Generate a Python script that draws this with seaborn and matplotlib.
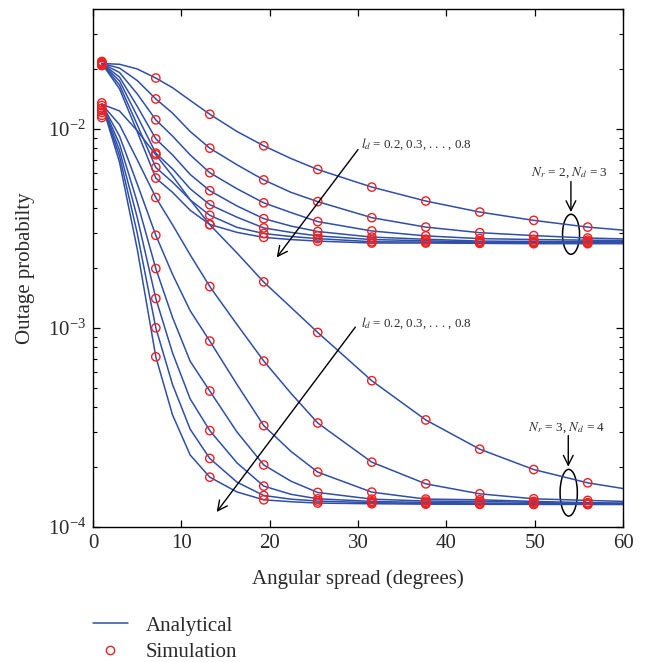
import numpy as np
import pandas as pd
import matplotlib
matplotlib.use("Agg")
import matplotlib.pyplot as plt
import seaborn as sns
from matplotlib.patches import Ellipse
from matplotlib.lines import Line2D
from matplotlib.ticker import LogLocator, NullFormatter, MultipleLocator

# ---------------------------------------------------------------- data
ld_values = [0.2, 0.3, 0.4, 0.5, 0.6, 0.7, 0.8]

x_analytical = [1, 3, 5, 7.11, 9, 11, 13.22, 16.3, 19.33, 22.4, 25.44,
                31.56, 37.67, 43.78, 49.89, 56, 60]
x_simulation = [1, 7.11, 13.22, 19.33, 25.44, 31.56, 37.67, 43.78, 49.89, 56]

# Nr = 2, Nd = 3 (one row per l_d)
nr2_analytical = [
    [0.0213, 0.0211, 0.0200, 0.0180, 0.0161, 0.0139, 0.01184, 0.0097, 0.00822, 0.0071, 0.00625, 0.00510, 0.00434, 0.00382, 0.00347, 0.00321, 0.00310],
    [0.0213, 0.0202, 0.0175, 0.01413, 0.0120, 0.0097, 0.0080, 0.0066, 0.00554, 0.0048, 0.00431, 0.00358, 0.00321, 0.00301, 0.00291, 0.00283, 0.00280],
    [0.0213, 0.0192, 0.0150, 0.0111, 0.0092, 0.0074, 0.00602, 0.0050, 0.00425, 0.0038, 0.00342, 0.00307, 0.00290, 0.00281, 0.00278, 0.00276, 0.00275],
    [0.0213, 0.0182, 0.0130, 0.00891, 0.0074, 0.0059, 0.00489, 0.0041, 0.00354, 0.00325, 0.00305, 0.00286, 0.00279, 0.00273, 0.00272, 0.00271, 0.00271],
    [0.0213, 0.0174, 0.0116, 0.00755, 0.0063, 0.0050, 0.00416, 0.0036, 0.00318, 0.00302, 0.00290, 0.00278, 0.00274, 0.00270, 0.00269, 0.00269, 0.00269],
    [0.0213, 0.0166, 0.0105, 0.0064, 0.0054, 0.0044, 0.00368, 0.0032, 0.00298, 0.00288, 0.00281, 0.00271, 0.00270, 0.00268, 0.00267, 0.00267, 0.00267],
    [0.0213, 0.0159, 0.0097, 0.00566, 0.0048, 0.0039, 0.00331, 0.00302, 0.00285, 0.00278, 0.00273, 0.00267, 0.00267, 0.00266, 0.00265, 0.00265, 0.00265],
]
nr2_simulation = [
    [0.0218, 0.01801, 0.01184, 0.00822, 0.00625, 0.00510, 0.00434, 0.00382, 0.00347, 0.00321],
    [0.0216, 0.01413, 0.00800, 0.00554, 0.00431, 0.00358, 0.00321, 0.00301, 0.00291, 0.00283],
    [0.0214, 0.01110, 0.00602, 0.00425, 0.00342, 0.00307, 0.00290, 0.00281, 0.00278, 0.00276],
    [0.0212, 0.00891, 0.00489, 0.00354, 0.00305, 0.00286, 0.00279, 0.00273, 0.00272, 0.00271],
    [0.0211, 0.00755, 0.00416, 0.00318, 0.00290, 0.00278, 0.00274, 0.00270, 0.00269, 0.00269],
    [0.0209, 0.00640, 0.00368, 0.00298, 0.00281, 0.00271, 0.00270, 0.00268, 0.00267, 0.00267],
    [0.0208, 0.00566, 0.00331, 0.00285, 0.00273, 0.00267, 0.00267, 0.00266, 0.00265, 0.00265],
]

# Nr = 3, Nd = 4 (one row per l_d)
nr3_analytical = [
    [0.0133, 0.0123, 0.0098, 0.00741, 0.0058, 0.0044, 0.0033, 0.00238, 0.0017, 0.00127, 0.000949, 0.000543, 0.000345, 0.000246, 0.0001944, 0.0001667, 0.0001561],
    [0.0133, 0.0105, 0.0070, 0.00452, 0.0033, 0.00233, 0.001614, 0.00104, 0.000682, 0.00047, 0.000333, 0.0002117, 0.0001648, 0.0001468, 0.0001386, 0.000136, 0.0001345],
    [0.0133, 0.0092, 0.0053, 0.00292, 0.00186, 0.00122, 0.000859, 0.00052, 0.000323, 0.00024, 0.0001887, 0.0001497, 0.0001381, 0.000137, 0.0001345, 0.0001325, 0.000132],
    [0.0133, 0.0084, 0.0043, 0.001987, 0.00113, 0.00068, 0.000482, 0.0003, 0.000205, 0.00017, 0.0001491, 0.0001381, 0.000135, 0.0001345, 0.000133, 0.000131, 0.000131],
    [0.0133, 0.0078, 0.0036, 0.001406, 0.00075, 0.00044, 0.000305, 0.00021, 0.0001605, 0.000146, 0.0001386, 0.0001345, 0.0001328, 0.000132, 0.000131, 0.00013, 0.00013],
    [0.0133, 0.0073, 0.0030, 0.001001, 0.00052, 0.00031, 0.000221, 0.000168, 0.000144, 0.000138, 0.000135, 0.0001325, 0.0001313, 0.000131, 0.00013, 0.00013, 0.00013],
    [0.0133, 0.0068, 0.0025, 0.000716, 0.000366, 0.00023, 0.000178, 0.00015, 0.000137, 0.000134, 0.0001319, 0.0001309, 0.0001303, 0.00013, 0.00013, 0.00013, 0.00013],
]
nr3_simulation = [
    [0.0135, 0.00741, 0.00330, 0.001703, 0.000949, 0.000543, 0.000345, 0.000246, 0.0001944, 0.0001667],
    [0.0131, 0.00452, 0.001614, 0.000682, 0.000333, 0.0002117, 0.0001648, 0.0001468, 0.0001386, 0.000136],
    [0.0127, 0.00292, 0.000859, 0.000323, 0.0001887, 0.0001497, 0.0001381, 0.000137, 0.0001345, 0.0001325],
    [0.0124, 0.001987, 0.000482, 0.000205, 0.0001491, 0.0001381, 0.000135, 0.0001345, 0.000133, 0.000131],
    [0.0121, 0.001406, 0.000305, 0.0001605, 0.0001386, 0.0001345, 0.0001328, 0.000132, 0.000131, 0.00013],
    [0.0117, 0.001001, 0.000221, 0.000144, 0.000135, 0.0001325, 0.0001313, 0.000131, 0.00013, 0.00013],
    [0.0114, 0.000716, 0.000178, 0.000137, 0.0001319, 0.0001309, 0.0001303, 0.00013, 0.00013, 0.00013],
]

# ---------------------------------------------------------------- tidy tables
def to_long(x, groups):
    rows = []
    for config, table in groups.items():
        for ld, ys in zip(ld_values, table):
            for xv, yv in zip(x, ys):
                rows.append({"config": config, "ld": ld,
                             "curve": f"{config}-{ld}", "angle": xv, "pout": yv})
    return pd.DataFrame(rows)

df_line = to_long(x_analytical, {"Nr2Nd3": nr2_analytical, "Nr3Nd4": nr3_analytical})
df_sim = to_long(x_simulation, {"Nr2Nd3": nr2_simulation, "Nr3Nd4": nr3_simulation})

# ---------------------------------------------------------------- style
sns.set_style("ticks")
plt.rcParams["font.family"] = ["Liberation Serif", "DejaVu Serif"]
plt.rcParams["mathtext.fontset"] = "stix"
plt.rcParams["axes.linewidth"] = 1.0

LINE_C = "#2f4fa8"
MARK_C = "#ee2222"
TEXT_C = "#2a2a2a"

fig = plt.figure(figsize=(6.49, 6.62), dpi=100)
ax = fig.add_axes([0.1433, 0.2039, 0.8167, 0.7825])

sns.lineplot(data=df_line, x="angle", y="pout", units="curve", estimator=None,
             color=LINE_C, linewidth=1.1, ax=ax, legend=False)
sns.scatterplot(data=df_sim, x="angle", y="pout", ax=ax, marker="o",
                s=36, facecolor="none", edgecolor=MARK_C, linewidth=1.0,
                legend=False, zorder=3)

ax.set_yscale("log")
ax.set_xlim(0, 60)
ax.set_ylim(1e-4, 4e-2)
ax.xaxis.set_major_locator(MultipleLocator(10))
ax.yaxis.set_major_locator(LogLocator(base=10, numticks=10))
ax.yaxis.set_minor_locator(LogLocator(base=10, subs=np.arange(2, 10), numticks=20))
ax.yaxis.set_minor_formatter(NullFormatter())
ax.tick_params(axis="both", which="both", direction="in", top=True, right=True,
               colors="black", labelcolor=TEXT_C)
ax.tick_params(axis="both", which="major", length=5, width=0.9, labelsize=15, pad=5)
ax.tick_params(axis="y", which="minor", length=3, width=0.8)
for sp in ax.spines.values():
    sp.set_visible(True)
    sp.set_color("black")

ax.set_xlabel("Angular spread (degrees)", fontsize=15, color=TEXT_C, labelpad=12)
ax.set_ylabel("Outage probabilty", fontsize=15, color=TEXT_C, labelpad=9)

# ---------------------------------------------------------------- annotations
arrow_kw = dict(arrowstyle="->,head_length=0.7,head_width=0.35", lw=1.0, color="black",
                shrinkA=0, shrinkB=0)
ax.annotate("", xy=(20.8, 0.00226), xytext=(30.0, 0.00787), arrowprops=arrow_kw)
ax.text(30.3, 0.0084, r"$l_d$ = 0.2, 0.3, . . . , 0.8", fontsize=9.3, color=TEXT_C,
        va="center", ha="left")

ax.annotate("", xy=(14.0, 0.000119), xytext=(29.7, 0.00101), arrowprops=arrow_kw)
ax.text(30.3, 0.00106, r"$l_d$ = 0.2, 0.3, . . . , 0.8", fontsize=9.3, color=TEXT_C,
        va="center", ha="left")

ax.annotate("", xy=(54.1, 0.00382), xytext=(54.1, 0.00544), arrowprops=arrow_kw)
ax.text(53.9, 0.0060, r"$N_r$ = 2, $N_d$ = 3", fontsize=9.5, color=TEXT_C,
        va="center", ha="center")
ax.add_patch(Ellipse((0.9019, 0.5651), 0.0321, 0.0772, transform=ax.transAxes,
                     fill=False, edgecolor="black", lw=1.1))

ax.annotate("", xy=(53.8, 0.000201), xytext=(53.8, 0.000288), arrowprops=arrow_kw)
ax.text(53.6, 0.000316, r"$N_r$ = 3, $N_d$ = 4", fontsize=9.5, color=TEXT_C,
        va="center", ha="center")
ax.add_patch(Ellipse((0.8975, 0.0662), 0.0326, 0.0901, transform=ax.transAxes,
                     fill=False, edgecolor="black", lw=1.1))

# ---------------------------------------------------------------- legend
handles = [
    Line2D([], [], color=LINE_C, lw=1.1),
    Line2D([], [], color=MARK_C, marker="o", markerfacecolor="none",
           markersize=6, markeredgewidth=1.0, lw=0),
]
fig.legend(handles, ["Analytical", "Simulation"], loc="upper left",
           bbox_to_anchor=(0.1427, 0.0694), frameon=False, fontsize=15,
           handlelength=1.7, handletextpad=0.85, labelspacing=0.32,
           borderpad=0, borderaxespad=0, labelcolor=TEXT_C)

fig.savefig("out.png", dpi=100)
